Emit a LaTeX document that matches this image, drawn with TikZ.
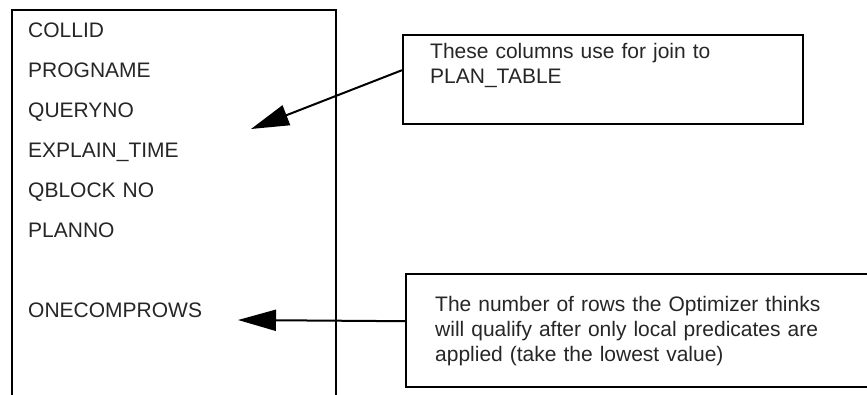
\documentclass[tikz,border=0pt]{standalone}
\usepackage{fontspec}
\setmainfont{Liberation Sans}
\usetikzlibrary{arrows.meta}
\tikzset{
  colname/.style={text width=250pt, align=left, inner sep=0pt,
    text height=15pt, text depth=4pt, text=black!85,
    font=\fontsize{21}{25}\selectfont},
  note/.style={draw, line width=2.4pt, anchor=north west, align=left,
    inner xsep=27pt, inner ysep=0pt, text=black!85,
    font=\fontsize{21}{25}\selectfont},
  pointer/.style={-{Triangle[length=38pt,width=21pt]}, line width=2pt}
}
\begin{document}
\begin{tikzpicture}[x=1pt, y=1pt, node distance=40pt]
    \clip (0,0) rectangle (867,-394);
    \draw[line width=2.4pt] (12,-400) -- (12,-10) -- (336,-10) -- (336,-400);

    \node (c1) [colname, anchor=west] at (28,-31.5) {COLLID};
    \node (c2) [colname, below of=c1] {PROGNAME};
    \node (c3) [colname, below of=c2] {QUERYNO};
    \node (c4) [colname, below of=c3] {EXPLAIN\_TIME};
    \node (c5) [colname, below of=c4] {QBLOCK NO};
    \node (c6) [colname, below of=c5] {PLANNO};
    \node (c7) [colname, below of=c6, node distance=80pt] {ONECOMPROWS};

    \node (join) [note, text width=346pt, minimum height=89pt] at (402,-34)
      {These columns use for join to\\PLAN\_TABLE\\\strut};
    \node (rows) [note, inner xsep=29pt, text width=450pt, minimum height=113pt] at (405,-273)
      {The number of rows the Optimizer thinks\\will qualify after only local predicates are\\applied (take the lowest value)};

    \coordinate (tip1) at (251,-129);
    \coordinate (tip2) at (238,-320);

    \draw[pointer] ([yshift=9.5pt]join.west) -- (tip1);
    \draw[pointer] ([yshift=9.5pt]rows.west) -- (tip2);
  \end{tikzpicture}
\end{document}
